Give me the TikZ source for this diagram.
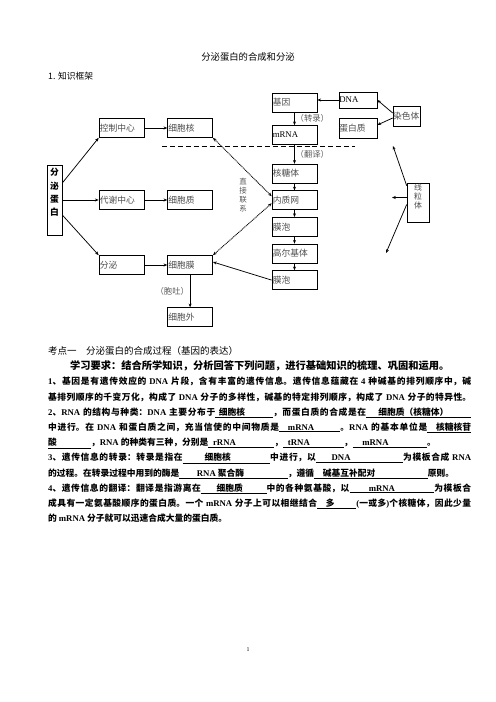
\documentclass[tikz,border=0pt]{standalone}
\usepackage{fontspec}
\setmainfont{Noto Sans CJK SC}
\newfontfamily\en{Liberation Serif}
\usetikzlibrary{arrows.meta,positioning,calc}
\newcommand{\E}[1]{{\en #1}}
\newcommand{\fillin}[3]{\underline{\hspace*{#1em}#2\hspace*{#3em}}}

\begin{document}
\begin{tikzpicture}[x=1.2pt, y=-1.2pt, node distance=8.4pt,
  box/.style={rectangle, draw, line width=0.75pt, minimum height=22.8pt,
    text width=52pt, inner xsep=1pt, inner ysep=0pt, align=left,
    font=\fontsize{10.5}{12}\selectfont, text=black!70},
  arr/.style={-{Stealth[length=4.5pt,width=3.6pt]}, line width=0.9pt},
  dots/.style={{Stealth[length=4.5pt,width=3.6pt]}-{Stealth[length=4.5pt,width=3.6pt]},
    line width=1.1pt, dash pattern=on 1.1pt off 0.9pt},
  lbl/.style={font=\fontsize{10}{12}\selectfont, text=black!65, inner sep=1pt}]
\useasboundingbox (0,0) rectangle (496,702);

% title
\node[font=\fontsize{11.2}{13}\selectfont] (title) at (248,57) {分泌蛋白的合成和分泌};
\node[anchor=west, inner sep=0pt, font=\fontsize{10.5}{12}\selectfont] (kj) at (48,76) {1. 知识框架};

% left part
\node[draw, line width=0.75pt, minimum width=18pt, minimum height=84pt, inner sep=0pt,
  align=center, font=\bfseries\fontsize{10.5}{16}\selectfont] (fmdb) at (54.5,200) {分\\泌\\蛋\\白\\[3pt]\mbox{}};
\node[box] (kzzx) at (121.5,128) {控制中心};
\node[box, right=27.6pt of kzzx] (xbh) {细胞核};
\node[box] (dxzx) at (121.5,200) {代谢中心};
\node[box, right=27.6pt of dxzx] (xbz) {细胞质};
\node[box] (fm) at (121.5,265) {分泌};
\node[box, right=27.6pt of fm] (xbm) {细胞膜};
\node[box, below=39pt of xbm] (xbw) {细胞外};

% right column
\node[box, text=black] (mrna) at (294.5,135) {\E{mRNA}};
\node[box, above=15.6pt of mrna] (jy) {基因};
\node[box, below=22.8pt of mrna] (hty) {核糖体};
\node[box, below=of hty] (nzw) {内质网};
\node[box, below=of nzw] (mp1) {膜泡};
\node[box, below=of mp1] (gej) {高尔基体};
\node[box, below=of gej] (mp2) {膜泡};

\node[box, text=black, text width=44.6pt, inner xsep=0.5pt, minimum height=19.2pt] (dna) at (358,100) {\E{DNA}};
\node[box, text width=44.6pt, inner xsep=0.5pt, minimum height=24pt] (dbz) at (358,128) {蛋白质};
\node[box, text width=32.4pt, inner xsep=0pt, minimum height=24pt] (rst) at (406.5,116) {染色体};
\node[draw, line width=0.75pt, minimum width=26.4pt, minimum height=46.8pt, inner sep=0pt,
  align=center, text=black!70, font=\fontsize{9.5}{10.8}\selectfont] (xlt) at (418,202.5) {线\\粒\\体\\[4.8pt]\mbox{}};

\node[align=center, text=black!65, font=\fontsize{9}{10.5}\selectfont] (zjlx) at (243,195) {直\\接\\联\\系};

% dashed line
\coordinate (dl) at (162,146.5);
\coordinate (dr) at (355,146.5);
\draw[line width=1.1pt, dash pattern=on 6pt off 3.5pt] (dl) -- (dr);

% connectors
\draw[arr] ($(fmdb.east)+(0,-17)$) -- (kzzx.south west);
\draw[arr] (fmdb) -- (dxzx);
\draw[arr] ($(fmdb.east)+(0,15)$) -- (fm.north west);
\foreach \a/\b in {kzzx/xbh, dxzx/xbz, fm/xbm}
  \draw[arr] (\a) -- (\b);
\draw[dots] (xbh.south east) -- ($(nzw.west)+(0,-4)$);
\draw[dots] (xbm.north east) -- ($(nzw.west)+(0,3)$);
\draw[arr] (mp2.west) -- ($(xbm.east)+(0,-3)$);
\draw[arr] (xbm) -- (xbw) node[midway, left, lbl] (tt) {（胞吐）};
\draw[arr] (dna.west) -- (dna.west -| jy.east);
\draw[arr] ($(rst.west)+(0,-3)$) -- (dna.east);
\draw[arr] ($(rst.west)+(0,2)$) -- ($(dbz.east)+(0,-3)$);
\draw[arr] (jy) -- (mrna) node[midway, right, lbl] (zl) {（转录）};
\draw[arr] (mrna) -- (hty) node[midway, right, lbl] (fy) {（翻译）};
\foreach \a/\b in {hty/nzw, nzw/mp1, mp1/gej, gej/mp2}
  \draw[arr] (\a) -- (\b);

% mitochondria
\coordinate (xup) at (393,146);
\coordinate (xleft) at (392,197.5);
\coordinate (xdown) at (386,253);
\draw[arr] ($(xlt.north west)+(0,3)$) -- (xup);
\draw[arr] ($(xlt.west)+(0,-5)$) -- (xleft);
\draw[arr] ($(xlt.west)+(0,2)$) -- (xdown);

% text below
\node[anchor=west, inner sep=0pt, font=\fontsize{11.4}{13}\selectfont] (kd) at (48,351) {考点一　分泌蛋白的合成过程（基因的表达）};
\node[anchor=west, inner sep=0pt, font=\bfseries\fontsize{12.3}{14}\selectfont] (yq) at (70,366) {学习要求：结合所学知识，分析回答下列问题，进行基础知识的梳理、巩固和运用。};
\node[anchor=north west, inner sep=0pt, text width=507.6pt, align=justify,
  font=\bfseries\fontsize{10.5}{18.27}\selectfont] (body) at (48,377) {\XeTeXlinebreaklocale "zh"\XeTeXlinebreakskip=0pt plus 1pt\relax\noindent
\E{1}、基因是有遗传效应的 \E{DNA} 片段，含有丰富的遗传信息。遗传信息蕴藏在 \E{4} 种碱基的排列顺序中，碱\linebreak
基排列顺序的千变万化，构成了 \E{DNA} 分子的多样性，碱基的特定排列顺序，构成了 \E{DNA} 分子的特异性。\linebreak
\E{2}、\E{RNA} 的结构与种类：\E{DNA} 主要分布于\fillin{0.4}{细胞核}{3.2}，而蛋白质的合成是在\fillin{1.4}{细胞质（核糖体）}{2.6}\linebreak
中进行。在 \E{DNA} 和蛋白质之间，充当信使的中间物质是\fillin{1}{\E{mRNA}}{3}。\E{RNA} 的基本单位是\fillin{1}{核糖核苷}{0}\linebreak
\fillin{0}{酸}{3.9}，\E{RNA} 的种类有三种，分别是\fillin{0.55}{\E{rRNA}}{4.4}，\fillin{0.55}{\E{tRNA}}{3.9}，\fillin{1.1}{\E{mRNA}}{4.4}。\\
\E{3}、遗传信息的转录：转录是指在\fillin{2.5}{细胞核}{4.5}中进行，以\fillin{1.8}{\E{DNA}}{6}为模板合成 \E{RNA}\linebreak
的过程。在转录过程中用到的酶是\fillin{2}{\E{RNA} 聚合酶}{5}，遵循\fillin{1}{碱基互补配对}{6}原则。\\
\E{4}、遗传信息的翻译：翻译是指游离在\fillin{1.8}{细胞质}{2.7}中的各种氨基酸，以\fillin{2.2}{\E{mRNA}}{4.5}为模板合\linebreak
成具有一定氨基酸顺序的蛋白质。一个 \E{mRNA} 分子上可以相继结合\fillin{1}{多}{2.5}\E{(}一或多\E{)}个核糖体，因此少量\linebreak
的 \E{mRNA} 分子就可以迅速合成大量的蛋白质。};

\node[font=\fontsize{7}{8}\selectfont] (pg) at (248,650) {\E{1}};
\end{tikzpicture}
\end{document}
